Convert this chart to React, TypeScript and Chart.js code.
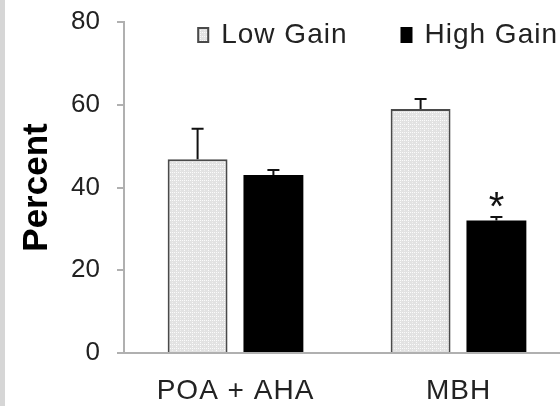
import React, { useEffect, useRef } from 'react';
import { Chart, registerables } from 'chart.js';

Chart.register(...registerables);

const categories = ['POA + AHA', 'MBH'];
const seriesLabels = ['Low Gain', 'High Gain'];
const lowGain = [46.8, 59.0];
const highGain = [43.0, 32.0];
const lowGainErr = [7.4, 2.4];
const highGainErr = [1.2, 0.9];
const lowGainMarks = ['', ''];
const highGainMarks = ['', '*'];
const yMin = 0;
const yMax = 80;
const yStep = 20;

const FONT = "'Liberation Sans', Arial, Helvetica, sans-serif";

function makePattern(): CanvasPattern | string {
  const c = document.createElement('canvas');
  c.width = 8;
  c.height = 4;
  const g = c.getContext('2d');
  if (!g) return '#ebebeb';
  g.fillStyle = '#e2e2e2';
  g.fillRect(0, 0, 8, 4);
  g.fillStyle = '#fbfbfb';
  for (let yy = 0; yy < 4; yy += 2) g.fillRect(0, yy, 1, 1);
  for (let xx = 0; xx < 8; xx += 2) g.fillRect(xx, 0, 1, 1);
  g.fillStyle = '#eeeeee';
  g.fillRect(4, 2, 1, 1);
  const p = g.createPattern(c, 'repeat');
  return p || '#ebebeb';
}

const decorPlugin = {
  id: 'decor',
  beforeDraw(chart: any) {
    const ctx = chart.ctx;
    ctx.save();
    ctx.fillStyle = '#ffffff';
    ctx.fillRect(0, 0, chart.width, chart.height);
    ctx.fillStyle = '#d6d6d6';
    ctx.fillRect(0, 0, 5, chart.height);
    ctx.restore();
    ctx.letterSpacing = '0px';
  },
  afterDatasetsDraw(chart: any) {
    const ctx = chart.ctx;
    const ys = chart.scales.y;
    chart.data.datasets.forEach((ds: any, i: number) => {
      const meta = chart.getDatasetMeta(i);
      meta.data.forEach((bar: any, j: number) => {
        const v = ds.data[j];
        const e = ds.errors ? ds.errors[j] : 0;
        const top = ys.getPixelForValue(v + e);
        ctx.save();
        ctx.strokeStyle = '#111';
        ctx.lineWidth = 2;
        ctx.beginPath();
        ctx.moveTo(bar.x, bar.y);
        ctx.lineTo(bar.x, top);
        ctx.moveTo(bar.x - 6, top);
        ctx.lineTo(bar.x + 6, top);
        ctx.stroke();
        const mark = ds.marks ? ds.marks[j] : '';
        if (mark) {
          ctx.fillStyle = '#111';
          ctx.font = `40px ${FONT}`;
          ctx.textAlign = 'center';
          ctx.textBaseline = 'alphabetic';
          ctx.fillText(mark, bar.x, top + 3);
        }
        ctx.restore();
      });
    });
    ctx.letterSpacing = '1px';
  },
  afterDraw(chart: any) {
    const ctx = chart.ctx;
    ctx.letterSpacing = '0px';
    const area = chart.chartArea;
    ctx.save();
    ctx.letterSpacing = '1px';
    ctx.font = `28px ${FONT}`;
    ctx.textBaseline = 'middle';
    ctx.textAlign = 'left';
    const cy = area.top + 13;
    const boxW = 12;
    const boxH = 16;
    const gap = 12;
    const itemGap = 53;
    let right = area.right - 12;
    const ds = chart.data.datasets;
    for (let i = ds.length - 1; i >= 0; i--) {
      const label = ds[i].label;
      const w = ctx.measureText(label).width;
      const tx = right - w;
      const bx = tx - gap - boxW;
      ctx.fillStyle = ds[i].backgroundColor;
      ctx.fillRect(bx, cy - boxH / 2, boxW, boxH);
      if (ds[i].borderWidth) {
        ctx.strokeStyle = ds[i].borderColor;
        ctx.lineWidth = 2;
        ctx.strokeRect(bx + 1, cy - boxH / 2 + 1, boxW - 2, boxH - 2);
      }
      ctx.fillStyle = '#222';
      ctx.fillText(label, tx, cy);
      right = bx - itemGap;
    }
    ctx.restore();
  },
};

export default function App() {
  const ref = useRef<HTMLCanvasElement>(null);
  useEffect(() => {
    if (!ref.current) return;
    const pattern = makePattern();
    const chart = new Chart(ref.current, {
      type: 'bar',
      data: {
        labels: categories,
        datasets: [
          {
            label: seriesLabels[0],
            data: lowGain,
            errors: lowGainErr,
            marks: lowGainMarks,
            backgroundColor: pattern,
            borderColor: '#4a4a4a',
            borderWidth: 2,
            categoryPercentage: 0.68,
            barPercentage: 0.79,
          } as any,
          {
            label: seriesLabels[1],
            data: highGain,
            errors: highGainErr,
            marks: highGainMarks,
            backgroundColor: '#000000',
            borderColor: '#000000',
            borderWidth: 0,
            categoryPercentage: 0.68,
            barPercentage: 0.79,
          } as any,
        ],
      },
      options: {
        responsive: false,
        animation: false,
        devicePixelRatio: 1,
        layout: { autoPadding: false, padding: { left: 0, right: 2, top: 22, bottom: 0 } },
        plugins: {
          legend: { display: false },
          tooltip: { enabled: false },
        },
        scales: {
          x: {
            afterFit: (scale: any) => {
              scale.height = 53;
              scale.paddingLeft = 0;
              scale.paddingRight = 0;
            },
            grid: { display: false, drawTicks: false },
            border: { display: true, color: '#b0b0b0', width: 2 },
            ticks: {
              z: 1,
              padding: 21,
              color: '#222',
              font: { family: FONT, size: 28 },
              maxRotation: 0,
              autoSkip: false,
            },
          },
          y: {
            min: yMin,
            max: yMax,
            afterFit: (scale: any) => {
              scale.width = 124;
              scale.paddingTop = 0;
              scale.paddingBottom = 0;
            },
            grid: {
              drawOnChartArea: false,
              drawTicks: true,
              tickLength: 7,
              color: '#b0b0b0',
              lineWidth: 2,
            },
            border: { display: true, color: '#b0b0b0', width: 2 },
            ticks: {
              stepSize: yStep,
              padding: 17,
              color: '#222',
              font: { family: FONT, size: 26 },
            },
            title: {
              display: true,
              text: 'Percent',
              color: '#000',
              font: { family: FONT, size: 35, weight: 'bold' },
              padding: { top: 16, bottom: 9 },
            },
          },
        },
      },
      plugins: [decorPlugin],
    });
    return () => chart.destroy();
  }, []);
  return (
    <div style={{ position: 'fixed', left: 0, top: 0, width: 572, height: 406, background: '#fff' }}>
      <canvas ref={ref} width={572} height={406} style={{ display: 'block' }} />
    </div>
  );
}
